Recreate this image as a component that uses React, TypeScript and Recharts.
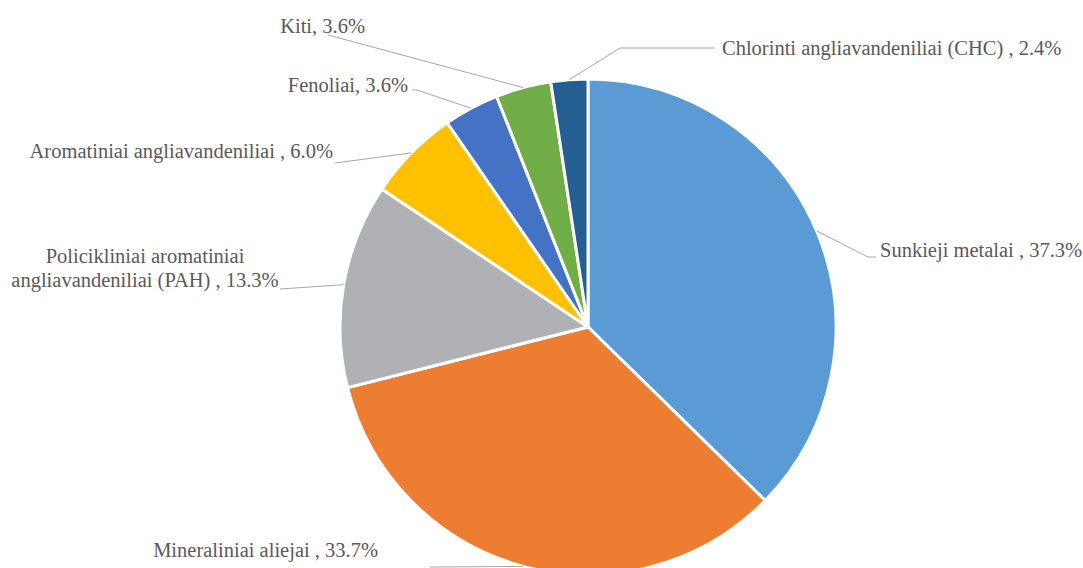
import { PieChart, Pie, Cell } from 'recharts'

const categories = [
  'Sunkieji metalai ',
  'Mineraliniai aliejai ',
  'Policikliniai aromatiniai angliavandeniliai (PAH) ',
  'Aromatiniai angliavandeniliai ',
  'Fenoliai',
  'Kiti',
  'Chlorinti angliavandeniliai (CHC) ',
]
const shares = [37.3, 33.7, 13.3, 6.0, 3.6, 3.6, 2.4]
const COLORS = ['#5B9BD5', '#ED7D31', '#B0B1B4', '#FFC000', '#4472C4', '#70AD47', '#255E91']

const data = categories.map((name, i) => ({ name, value: shares[i] }))

// where each label sits: leader line bends, text anchor and lines
const LAYOUT = [
  { pts: [[868, 257], [876, 257]], x: 880, y: 257, anchor: 'start', lines: ['Sunkieji metalai , 37.3%'] },
  { pts: [[430, 567]], x: 378, y: 557, anchor: 'end', lines: ['Mineraliniai aliejai , 33.7%'] },
  { pts: [[280, 289]], x: 145, y: 263, anchor: 'middle', lines: ['Policikliniai aromatiniai', 'angliavandeniliai (PAH) , 13.3%'] },
  { pts: [[335, 163]], x: 333, y: 158, anchor: 'end', lines: ['Aromatiniai angliavandeniliai , 6.0%'] },
  { pts: [[417, 90], [412, 90]], x: 408, y: 92, anchor: 'end', lines: ['Fenoliai, 3.6%'] },
  { pts: [[328, 35]], x: 365, y: 33, anchor: 'end', lines: ['Kiti, 3.6%'] },
  { pts: [[620, 48], [715, 48]], x: 722, y: 55, anchor: 'start', lines: ['Chlorinti angliavandeniliai (CHC) , 2.4%'] },
]

const RAD = Math.PI / 180

const renderLabel = (props: any) => {
  const { cx, cy, midAngle, outerRadius, index } = props
  const l = LAYOUT[index]
  const sx = cx + outerRadius * Math.cos(-midAngle * RAD)
  const sy = cy + outerRadius * Math.sin(-midAngle * RAD)
  const path = [[sx, sy], ...l.pts].map((p, i) => `${i ? 'L' : 'M'}${p[0]},${p[1]}`).join(' ')
  return (
    <g key={`lbl-${index}`}>
      <path d={path} stroke="#A6A6A6" strokeWidth={1} fill="none" />
      {l.lines.map((t, i) => (
        <text
          key={i}
          x={l.x}
          y={l.y + i * 24}
          textAnchor={l.anchor}
          fill="#595959"
          fontFamily="Liberation Serif"
          fontSize="20.5px"
        >
          {t}
        </text>
      ))}
    </g>
  )
}

export default function App() {
  return (
    <div style={{ position: 'absolute', left: 0, top: 0, width: 1083, height: 568, background: '#fff' }}>
      <PieChart width={1083} height={568} margin={{ top: 0, right: 0, bottom: 0, left: 0 }}>
        <Pie
          data={data}
          dataKey="value"
          cx={588}
          cy={327}
          outerRadius={248}
          startAngle={90}
          endAngle={-270}
          stroke="#fff"
          strokeWidth={3}
          label={renderLabel}
          labelLine={false}
          isAnimationActive={false}
        >
          {data.map((entry, index) => (
            <Cell key={`cell-${index}`} fill={COLORS[index]} />
          ))}
        </Pie>
      </PieChart>
    </div>
  )
}
